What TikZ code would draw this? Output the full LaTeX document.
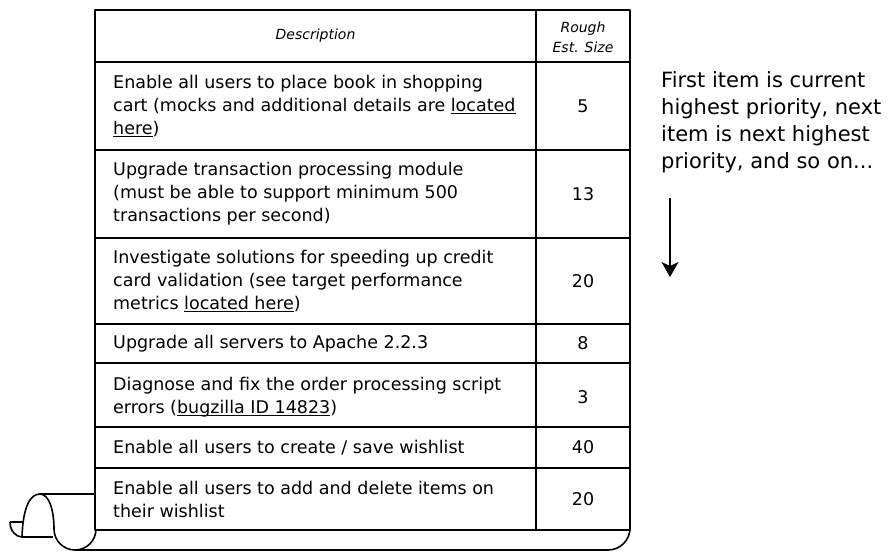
\documentclass[tikz,border=0pt]{standalone}
\usepackage{fontspec}
\setmainfont{DejaVu Sans}
\usetikzlibrary{arrows.meta}
\newcommand\lnk[1]{\setbox0\hbox{#1}\rlap{\rule[-2.8pt]{\wd0}{1pt}}\box0}
\begin{document}
\begin{tikzpicture}[x=1pt,y=-1pt,line join=round,
  tbl/.style={line width=1.6pt,draw=black},
  scrollline/.style={line width=1.6pt,draw=black},
  desc/.style={anchor=west,align=left,inner sep=0pt,font=\fontsize{17.5}{23}\selectfont},
  est/.style={anchor=center,inner sep=0pt,font=\fontsize{17.5}{23}\selectfont},
  hdr/.style={inner sep=0pt,align=center,font=\fontsize{14}{20}\selectfont\itshape},
  note/.style={anchor=north west,inner sep=0pt,align=left,font=\fontsize{21}{27}\selectfont},
  prio/.style={line width=1.2pt,-{Stealth[length=15pt,width=17pt,inset=4pt]}}]
\useasboundingbox (0,0) rectangle (889,552);

% table grid
\draw[tbl] (95,10) rectangle (630,530);
\foreach \yy in {62,150,238,324,363,427,468}
  \draw[tbl] (95,\yy) -- (630,\yy);
\draw[tbl] (536,10) -- (536,530);

% scroll bottom
\draw[scrollline] (630,528) arc[start angle=0,end angle=90,radius=22] -- (75,550);
\draw[scrollline] (54,529) arc[start angle=180,end angle=0,radius=21];
\draw[scrollline] (22,537) .. controls (23,505) and (31,494) .. (40,494)
   .. controls (49,494) and (54,510) .. (54,529);
\draw[scrollline] (40,494) -- (95,494);
\draw[scrollline] (22,537) -- (53,537);
\draw[scrollline] (10,522) -- (24,522);
\draw[scrollline] (10,522) .. controls (10,531) and (16,537) .. (22,537);

% header
\node[hdr] (hdesc) at (315.5,36) {Description};
\node[hdr] (hest) at (583,37) {Rough\\Est. Size};

% rows
\node[desc] (d1) at (113,106) {Enable all users to place book in shopping\\cart (mocks and additional details are \lnk{located}\\\lnk{here})};
\node[est] (e1) at (583,106) {5};
\node[desc] (d2) at (113,194) {Upgrade transaction processing module\\(must be able to support minimum 500\\transactions per second)};
\node[est] (e2) at (583,194) {13};
\node[desc] (d3) at (113,281) {Investigate solutions for speeding up credit\\card validation (see target performance\\metrics \lnk{located here})};
\node[est] (e3) at (583,281) {20};
\node[desc] (d4) at (113,343.5) {Upgrade all servers to Apache 2.2.3};
\node[est] (e4) at (583,343.5) {8};
\node[desc] (d5) at (113,397) {Diagnose and fix the order processing script\\errors (\lnk{bugzilla ID 14823})};
\node[est] (e5) at (583,397) {3};
\node[desc] (d6) at (113,447.5) {Enable all users to create / save wishlist};
\node[est] (e6) at (583,447.5) {40};
\node[desc] (d7) at (113,499) {Enable all users to add and delete items on\\their wishlist};
\node[est] (e7) at (583,499) {20};

% side note
\node[note] (pnote) at (661,71) {First item is current\\highest priority, next\\item is next highest\\priority, and so on...};
\coordinate (atop) at (670,198);
\coordinate (abot) at (670,277);
\draw[prio] (atop) -- (abot);
\end{tikzpicture}
\end{document}
